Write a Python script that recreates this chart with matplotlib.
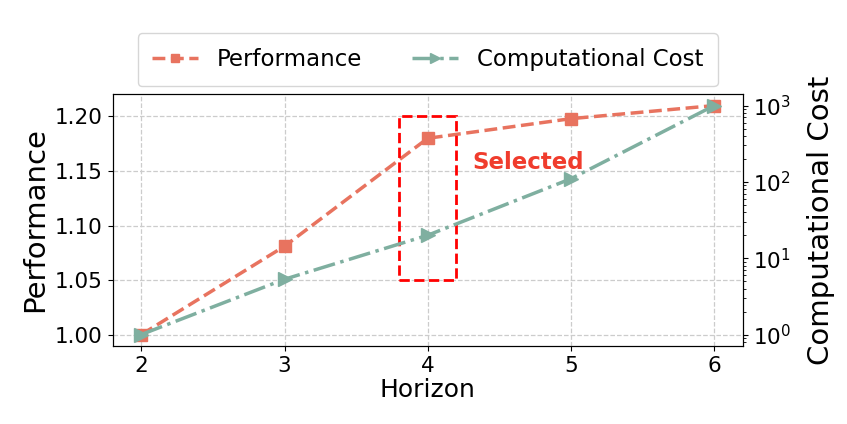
import numpy as np
import matplotlib.pyplot as plt
from matplotlib.patches import Rectangle

horizon = [2, 3, 4, 5, 6]
performance = [1.00, 1.081, 1.18, 1.198, 1.21]
comp_cost = [1, 5.3, 20, 110, 1000]

perf_color = '#E8735F'
cost_color = '#7FAFA0'

fig = plt.figure(figsize=(8.47, 4.24), dpi=100)
ax = fig.add_axes([0.133, 0.184, 0.744, 0.594])
ax2 = ax.twinx()

l1, = ax.plot(horizon, performance, linestyle='--', marker='s', color=perf_color,
              lw=2.5, markersize=9, label='Performance')
l2, = ax2.plot(horizon, comp_cost, linestyle='-.', marker='>', color=cost_color,
               lw=2.5, markersize=10, label='Computational Cost')
ax2.set_yscale('log')

ax.set_xticks(horizon)
ax.grid(True, linestyle='--', color='#cccccc', lw=0.9)
ax.set_axisbelow(True)

# selected box
ax.add_patch(Rectangle((3.8, 1.05), 0.4, 0.15, fill=False, edgecolor='red',
                       linestyle='--', lw=2, zorder=5))
ax.text(4.31, 1.158, 'Selected', color='#F03C2D', fontsize=16.5, fontweight='bold',
        va='center', ha='left')

ax.set_xlabel('Horizon', fontsize=18, labelpad=2)
ax.set_ylabel('Performance', fontsize=21)
ax2.set_ylabel('Computational Cost', fontsize=21, labelpad=12)
ax.tick_params(labelsize=15.5)
ax2.tick_params(labelsize=15.5)

ax.legend(handles=[l1, l2], loc='lower center', bbox_to_anchor=(0.5, 1.0),
          ncol=2, fontsize=16.5, frameon=True, markerscale=0.7,
          borderpad=0.65, borderaxespad=0.35, columnspacing=2.2)

fig.savefig('out.png', dpi=100)
